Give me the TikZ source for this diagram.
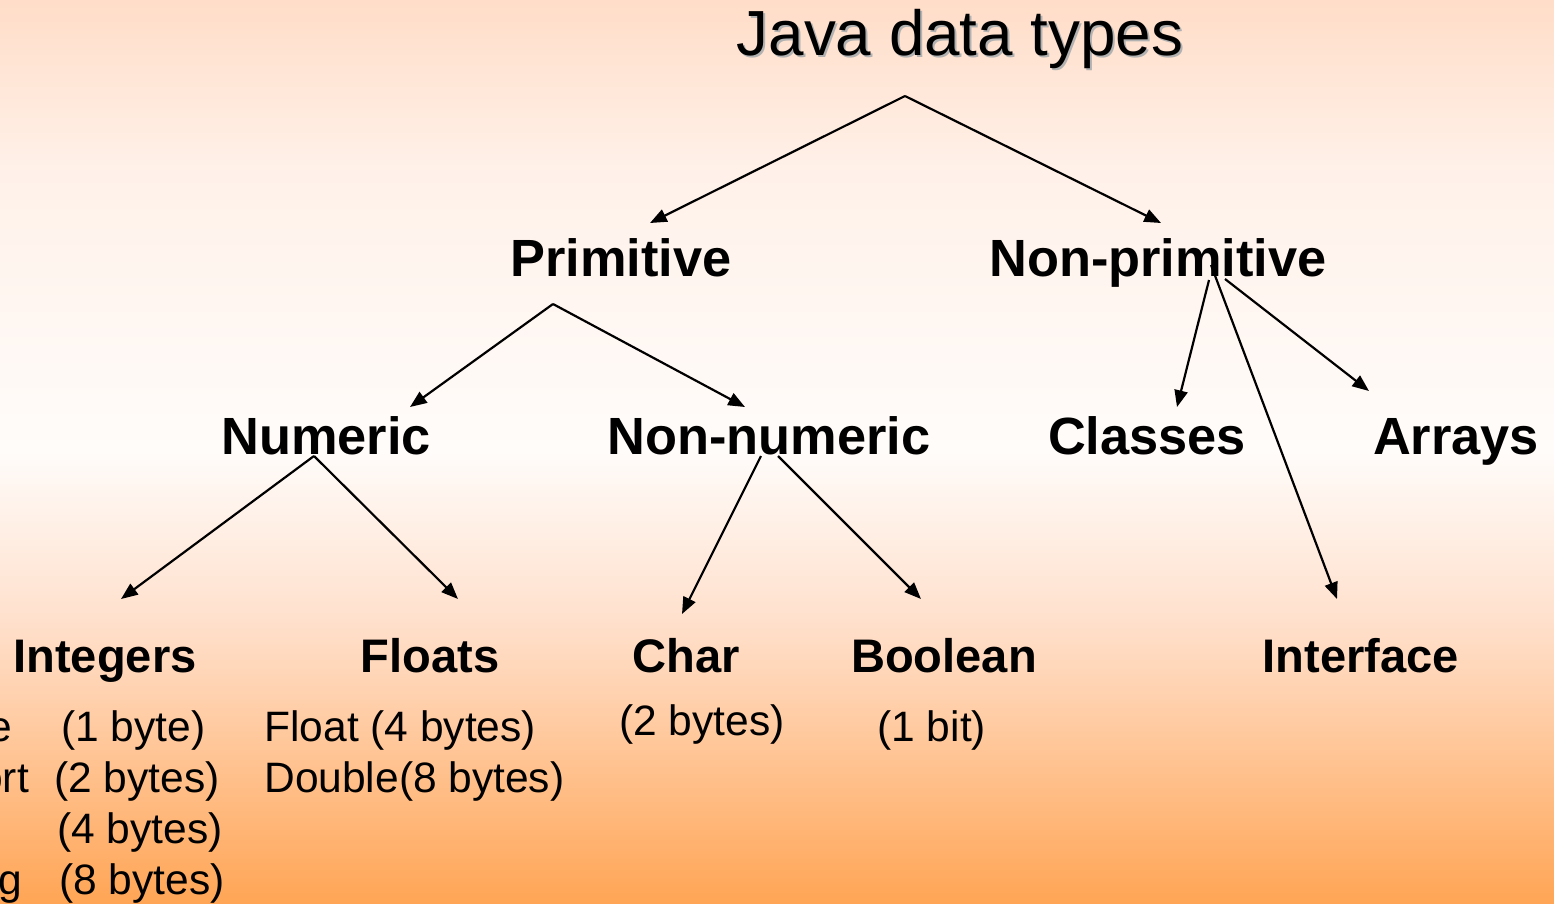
\documentclass[tikz,border=0pt]{standalone}
\usepackage{fontspec}
\setmainfont{Liberation Sans}
\usepackage{xcolor}
\usetikzlibrary{arrows.meta}

\definecolor{bgA}{RGB}{255,221,200}
\definecolor{bgB}{RGB}{255,241,233}
\definecolor{bgC}{RGB}{255,252,250}
\definecolor{bgD}{RGB}{255,224,204}
\definecolor{bgE}{RGB}{255,208,172}
\definecolor{bgF}{RGB}{255,165,85}

\tikzset{
  heading/.style={anchor=base, inner sep=0pt, font=\fontsize{36.3}{43}\selectfont},
  kindlabel/.style={anchor=base, inner sep=0pt, font=\fontsize{29.8}{36}\selectfont\bfseries},
  leaflabel/.style={anchor=base, inner sep=0pt, font=\fontsize{26.8}{32}\selectfont\bfseries},
  sizelabel/.style={anchor=base west, inner sep=0pt, font=\fontsize{24.2}{29}\selectfont},
  arr/.style={line width=1.25pt, -{Triangle[length=9.5pt,width=7.5pt]}},
}

\begin{document}
\begin{tikzpicture}[x=0.02cm, y=-0.02cm]
  \useasboundingbox (0,0) rectangle (1554,903);
  \clip (0,0) rectangle (1554,903);

  % background: peach at the top, white in the middle, orange at the bottom
  \shade[top color=bgA, bottom color=bgB] (0,0) rectangle (1554,172);
  \shade[top color=bgB, bottom color=bgC] (0,170) rectangle (1554,452);
  \shade[top color=bgC, bottom color=bgD] (0,450) rectangle (1554,622);
  \shade[top color=bgD, bottom color=bgE] (0,620) rectangle (1554,702);
  \shade[top color=bgE, bottom color=bgF] (0,700) rectangle (1554,903);

  % root
  \node[heading, black!30] at (962,57) {Java data types};
  \node[heading] (java) at (960,55) {Java data types};

  % second level
  \node[kindlabel] (prim) at (621,276) {Primitive};
  \node[kindlabel] (nonprim) at (1158,276) {Non-primitive};

  % third level
  \node[kindlabel] (numeric) at (326,454) {Numeric};
  \node[kindlabel] (nonnum) at (769,454) {Non-numeric};
  \node[kindlabel] (classes) at (1147,454) {Classes};
  \node[kindlabel] (arrays) at (1456,454) {Arrays};

  % leaves
  \node[leaflabel] (integers) at (105,672) {Integers};
  \node[leaflabel] (floats) at (430,672) {Floats};
  \node[leaflabel] (char) at (686,672) {Char};
  \node[leaflabel] (boolean) at (944,672) {Boolean};
  \node[leaflabel] (interface) at (1361,672) {Interface};

  % sizes
  \node[sizelabel] (byte) at (-73,741) {Byte};
  \node[sizelabel] (short) at (-73,792) {Short};
  \node[sizelabel] (long) at (-73,894) {Long};
  \node[sizelabel] (byte-sz) at (61,741) {(1 byte)};
  \node[sizelabel] (short-sz) at (54,792) {(2 bytes)};
  \node[sizelabel] (int-sz) at (57,843) {(4 bytes)};
  \node[sizelabel] (long-sz) at (59,894) {(8 bytes)};
  \node[sizelabel] (float-sz) at (264,741) {Float (4 bytes)};
  \node[sizelabel] (double-sz) at (264,792) {Double(8 bytes)};
  \node[sizelabel] (char-sz) at (619,735) {(2 bytes)};
  \node[sizelabel] (bool-sz) at (877,741) {(1 bit)};

  % arrow ends
  \coordinate (java-out) at (905,96);
  \coordinate (prim-in) at (650,223);
  \coordinate (nonprim-in) at (1161,223);
  \coordinate (prim-out) at (553,304);
  \coordinate (numeric-in) at (410,407);
  \coordinate (nonnum-in) at (745,407);
  \coordinate (nonprim-out1) at (1209,280);
  \coordinate (nonprim-out2) at (1211,265);
  \coordinate (nonprim-out3) at (1225,279);
  \coordinate (classes-in) at (1177,407);
  \coordinate (interface-in) at (1337,599);
  \coordinate (arrays-in) at (1369,391);
  \coordinate (numeric-out) at (314,456);
  \coordinate (integers-in) at (121,599);
  \coordinate (floats-in) at (458,599);
  \coordinate (nonnum-out1) at (761,456);
  \coordinate (nonnum-out2) at (778,456);
  \coordinate (char-in) at (682,614);
  \coordinate (boolean-in) at (921,599);

  \draw[arr] (java-out) -- (prim-in);
  \draw[arr] (java-out) -- (nonprim-in);
  \draw[arr] (prim-out) -- (numeric-in);
  \draw[arr] (prim-out) -- (nonnum-in);
  \draw[arr] (nonprim-out1) -- (classes-in);
  \draw[arr] (nonprim-out2) -- (interface-in);
  \draw[arr] (nonprim-out3) -- (arrays-in);
  \draw[arr] (numeric-out) -- (integers-in);
  \draw[arr] (numeric-out) -- (floats-in);
  \draw[arr] (nonnum-out1) -- (char-in);
  \draw[arr] (nonnum-out2) -- (boolean-in);
\end{tikzpicture}
\end{document}
